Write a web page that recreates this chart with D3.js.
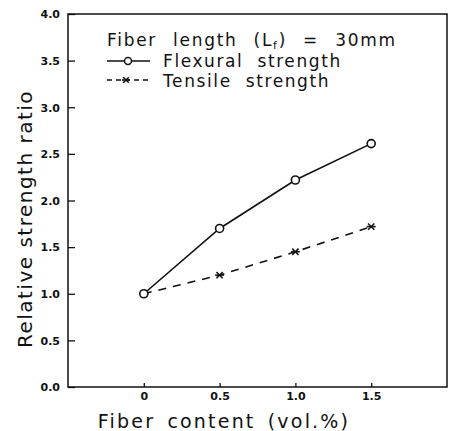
<!DOCTYPE html>
<html>
<head>
<meta charset="utf-8">
<script src="https://cdn.jsdelivr.net/npm/d3@7"></script>
<style>
  body { margin: 0; background: #fff; }
  text { font-family: "DejaVu Sans", sans-serif; fill: #111; }
</style>
</head>
<body>
<div id="chart"></div>
<script>
// data
let fiberContent = [0, 0.5, 1.0, 1.5];
let flexural = [1.0, 1.70, 2.22, 2.61];
let tensile = [1.0, 1.20, 1.45, 1.72];
let xTicks = [0, 0.5, 1.0, 1.5];
let xTickLabels = ['0', '0.5', '1.0', '1.5'];
let yTicks = [0, 0.5, 1.0, 1.5, 2.0, 2.5, 3.0, 3.5, 4.0];

let width = 449, height = 431;
let margin = {top: 14, right: 2, bottom: 44, left: 68};

let svg = d3.select('#chart')
    .append('svg')
    .attr('width', width)
    .attr('height', height);

let x = d3.scaleLinear().domain([-0.5, 2.0]).range([margin.left, width - margin.right]);
let y = d3.scaleLinear().domain([0, 4]).range([height - margin.bottom, margin.top]);

// frame
svg.append('rect')
    .attr('x', x(-0.5)).attr('y', y(4))
    .attr('width', x(2.0) - x(-0.5)).attr('height', y(0) - y(4))
    .attr('fill', 'none').attr('stroke', '#111').attr('stroke-width', 1.5);

// Y Axis (ticks pointing inward)
let yAxisCall = d3.axisRight(y).tickValues(yTicks).tickSize(7).tickFormat(d3.format('.1f'));
let yAxis = svg.append('g').attr('transform', 'translate(' + x(-0.5) + ',0)').call(yAxisCall);
yAxis.select('.domain').remove();
yAxis.selectAll('line').attr('stroke', '#111').attr('stroke-width', 1.3);
yAxis.selectAll('text')
    .attr('x', -8).attr('dy', '0.35em')
    .attr('text-anchor', 'end')
    .attr('font-size', '11px').attr('font-weight', 'bold');

// X Axis (ticks pointing up)
let xAxisCall = d3.axisTop(x).tickValues(xTicks).tickSize(4)
    .tickFormat(function (d, i) { return xTickLabels[i]; });
let xAxis = svg.append('g').attr('transform', 'translate(0,' + y(0) + ')').call(xAxisCall);
xAxis.select('.domain').remove();
xAxis.selectAll('line').attr('stroke', '#111').attr('stroke-width', 1.3);
xAxis.selectAll('text')
    .attr('y', 13).attr('dy', 0)
    .attr('font-size', '11px').attr('font-weight', 'bold');

// Axis titles
svg.append('text')
    .attr('x', 224)
    .attr('y', 428)
    .attr('text-anchor', 'middle')
    .attr('font-size', '19px')
    .attr('letter-spacing', '2.2px')
    .attr('word-spacing', '4px')
    .text('Fiber content (vol.%)');

svg.append('text')
    .attr('transform', 'translate(32,' + 219 + ') rotate(-90)')
    .attr('text-anchor', 'middle')
    .attr('font-size', '20px')
    .attr('letter-spacing', '1.5px')
    .text('Relative strength ratio');

// series
let line = d3.line()
    .x(function (d, i) { return x(fiberContent[i]); })
    .y(function (d) { return y(d); });

svg.append('path')
    .datum(tensile)
    .attr('d', line)
    .attr('fill', 'none').attr('stroke', '#111').attr('stroke-width', 1.6)
    .attr('stroke-dasharray', '8,7');

svg.append('path')
    .datum(flexural)
    .attr('d', line)
    .attr('fill', 'none').attr('stroke', '#111').attr('stroke-width', 1.6);

function cross(sel, s) {
    sel.append('line').attr('x1', -s).attr('x2', s).attr('y1', 0).attr('y2', 0);
    sel.append('line').attr('x1', -s * 0.7).attr('x2', s * 0.7).attr('y1', -s * 0.7).attr('y2', s * 0.7);
    sel.append('line').attr('x1', -s * 0.7).attr('x2', s * 0.7).attr('y1', s * 0.7).attr('y2', -s * 0.7);
}

svg.selectAll('.tmark')
    .data(tensile)
    .enter()
    .append('g')
    .attr('class', 'tmark')
    .attr('transform', function (d, i) { return 'translate(' + x(fiberContent[i]) + ',' + y(d) + ')'; })
    .attr('stroke', '#111').attr('stroke-width', 1.5)
    .each(function () { cross(d3.select(this), 4.5); });

svg.selectAll('.fmark')
    .data(flexural)
    .enter()
    .append('circle')
    .attr('class', 'fmark')
    .attr('cx', function (d, i) { return x(fiberContent[i]); })
    .attr('cy', function (d) { return y(d); })
    .attr('r', 4)
    .attr('fill', '#fff').attr('stroke', '#111').attr('stroke-width', 1.6);

// legend
let leg = svg.append('g');
let title = leg.append('text')
    .attr('x', 107).attr('y', 46)
    .attr('font-size', '17px')
    .attr('letter-spacing', '1.7px')
    .attr('word-spacing', '9px');
title.append('tspan').text('Fiber length (L');
title.append('tspan').attr('font-size', '11px').attr('dy', 3).text('f');
title.append('tspan').attr('dy', -3).text(') = 30mm');

leg.append('line')
    .attr('x1', 107).attr('x2', 150).attr('y1', 61).attr('y2', 61)
    .attr('stroke', '#111').attr('stroke-width', 1.6);
leg.append('circle')
    .attr('cx', 128).attr('cy', 61).attr('r', 3.5)
    .attr('fill', '#fff').attr('stroke', '#111').attr('stroke-width', 1.5);
leg.append('text')
    .attr('x', 163).attr('y', 67)
    .attr('font-size', '17px').attr('letter-spacing', '1.6px').attr('word-spacing', '7px')
    .text('Flexural strength');

leg.append('line')
    .attr('x1', 107).attr('x2', 152).attr('y1', 80).attr('y2', 80)
    .attr('stroke', '#111').attr('stroke-width', 1.6)
    .attr('stroke-dasharray', '5,4');
leg.append('g')
    .attr('transform', 'translate(126,80)')
    .attr('stroke', '#111').attr('stroke-width', 1.5)
    .call(cross, 4);
leg.append('text')
    .attr('x', 163).attr('y', 87)
    .attr('font-size', '17px').attr('letter-spacing', '1.6px').attr('word-spacing', '7px')
    .text('Tensile strength');
</script>
</body>
</html>
